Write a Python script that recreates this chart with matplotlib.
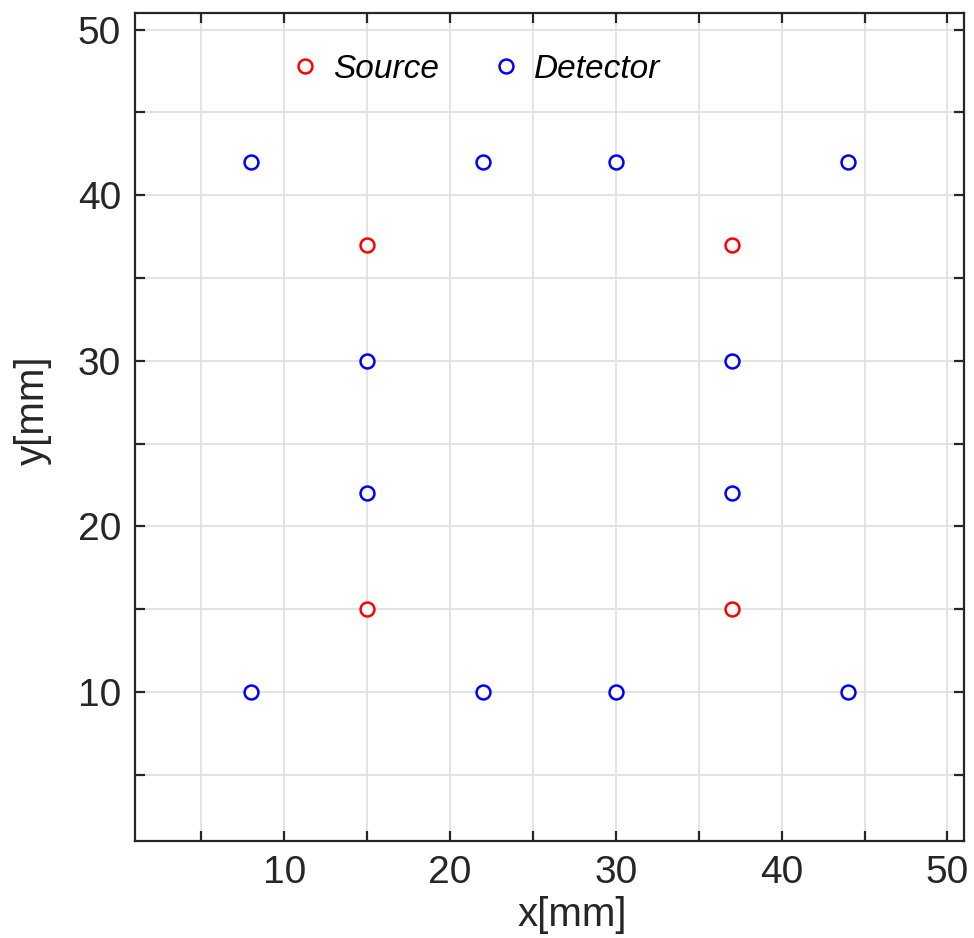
import matplotlib
matplotlib.use("Agg")
import matplotlib.pyplot as plt
from matplotlib.ticker import MultipleLocator

plt.rcParams['font.family'] = ['Liberation Sans', 'DejaVu Sans']

source_x = [15, 37, 15, 37]
source_y = [37, 37, 15, 15]
detector_x = [8, 22, 30, 44, 15, 37, 15, 37, 8, 22, 30, 44]
detector_y = [42, 42, 42, 42, 30, 30, 22, 22, 10, 10, 10, 10]

fig = plt.figure(figsize=(9.74, 9.38), dpi=100)
ax = fig.add_axes([135/974, 1-841/938, 829/974, 828/938])

ax.plot(source_x, source_y, 'o', ls='none', mec='#ff0000', mfc='white', ms=10, mew=1.8, label='Source', zorder=3)
ax.plot(detector_x, detector_y, 'o', ls='none', mec='#0000ff', mfc='white', ms=10, mew=1.8, label='Detector', zorder=3)

ax.set_xlim(1, 51)
ax.set_ylim(1, 51)
ax.xaxis.set_major_locator(MultipleLocator(10))
ax.yaxis.set_major_locator(MultipleLocator(10))
ax.xaxis.set_minor_locator(MultipleLocator(5))
ax.yaxis.set_minor_locator(MultipleLocator(5))
ax.grid(True, which='both', color='#e0e0e0', lw=1.3, zorder=0)
ax.set_axisbelow(True)

for s in ax.spines.values():
    s.set_color('#262626')
    s.set_linewidth(1.6)

ax.tick_params(which='both', direction='in', top=True, right=True, length=7, width=1.6,
               color='#262626', labelcolor='#262626', labelsize=28, pad=10)

ax.set_xlabel('x[mm]', fontsize=29, color='#262626')
ax.set_ylabel('y[mm]', fontsize=29, color='#262626')
ax.xaxis.set_label_coords(0.527, -0.066)
ax.yaxis.set_label_coords(-0.100, 0.5205)

leg = ax.legend(loc='center left', bbox_to_anchor=(0.185, 0.932), ncol=2, frameon=False,
                prop={'style': 'italic', 'size': 24}, handletextpad=0.35, columnspacing=1.5,
                markerscale=1.0, handlelength=1.0, borderpad=0, borderaxespad=0)

fig.savefig('out.png', dpi=100)
